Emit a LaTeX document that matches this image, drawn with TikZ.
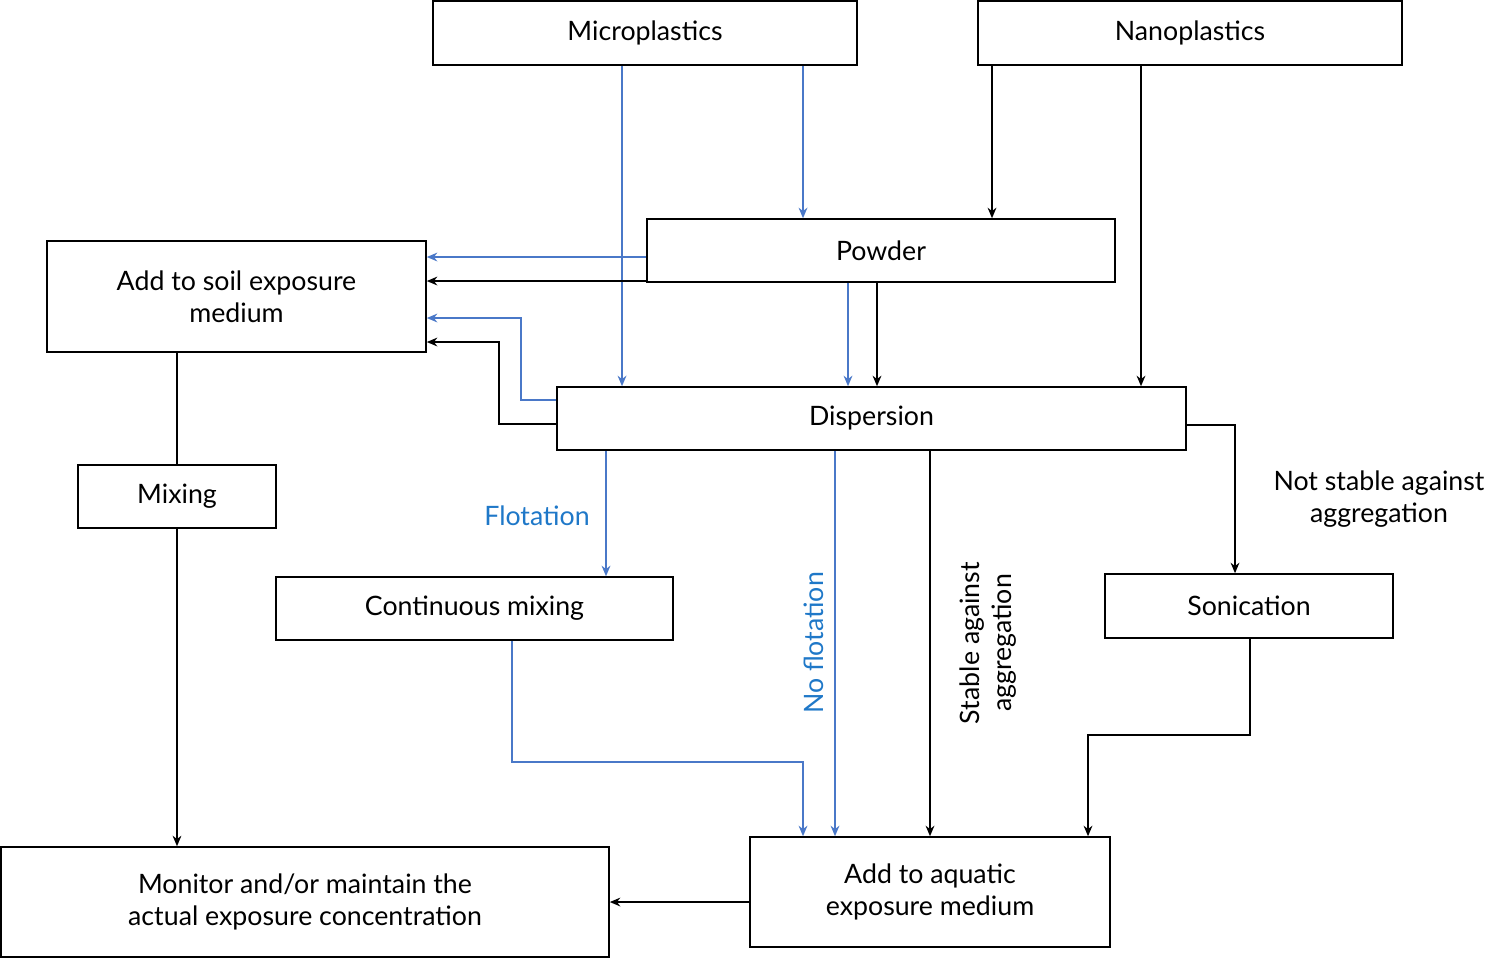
\documentclass[tikz,border=0pt]{standalone}
\usepackage{fontspec}
\setmainfont{Lato}
\usetikzlibrary{arrows.meta}
\definecolor{bl}{HTML}{4A78C8}
\definecolor{bt}{HTML}{1F78C8}
\begin{document}
\begin{tikzpicture}[x=0.01cm,y=-0.01cm,
 box/.style={draw,line width=0.45pt,inner sep=0pt},
 a/.style={-{Stealth[length=3pt,width=2.5pt]},line width=0.45pt},
 b/.style={a,draw=bl},
 lab/.style={font=\fontsize{7.6}{9}\selectfont,align=center}]
\useasboundingbox (0,0) rectangle (1501,959);
\tikzset{every node/.style={lab}}
\newcommand\bx[6]{\node[box,minimum width=#4*0.01cm-#2*0.01cm,minimum height=#5*0.01cm-#3*0.01cm] (#1) at ({(#2+#4)/2},{(#3+#5)/2}) {#6};}
\bx{mp}{433}{1}{857}{65}{Microplastics}
\bx{np}{978}{1}{1402}{65}{Nanoplastics}
\bx{pw}{647}{219}{1115}{282}{Powder}
\bx{soil}{47}{241}{426}{352}{Add to soil exposure\\medium}
\bx{dp}{557}{387}{1186}{450}{Dispersion}
\bx{mx}{78}{465}{276}{528}{Mixing}
\bx{cm}{276}{577}{673}{640}{Continuous mixing}
\bx{so}{1105}{574}{1393}{638}{Sonication}
\bx{mo}{1}{847}{609}{957}{Monitor and/or maintain the\\actual exposure concentration}
\bx{aq}{750}{837}{1110}{947}{Add to aquatic\\exposure medium}
\draw[b] (mp.south -| 622,0) -- (dp.north -| 622,0);
\draw[b] (mp.south -| 803,0) -- (pw.north -| 803,0);
\draw[a] (np.south -| 992,0) -- (pw.north -| 992,0);
\draw[a] (np.south -| 1141,0) -- (dp.north -| 1141,0);
\draw[b] (pw.west |- 0,257) -- (soil.east |- 0,257);
\draw[a] (pw.west |- 0,281) -- (soil.east |- 0,281);
\draw[b] (pw.south -| 848,0) -- (dp.north -| 848,0);
\draw[a] (pw.south -| 877,0) -- (dp.north -| 877,0);
\draw[b] (dp.west |- 0,400) -- (521,400) -- (521,318) -- (soil.east |- 0,318);
\draw[a] (dp.west |- 0,424) -- (499,424) -- (499,342) -- (soil.east |- 0,342);
\draw[line width=0.45pt] (soil.south -| 177,0) -- (mx.north -| 177,0);
\draw[a] (mx.south -| 177,0) -- (mo.north -| 177,0);
\draw[a] (dp.east |- 0,425) -- (1235,425) -- (so.north -| 1235,0);
\draw[b] (dp.south -| 606,0) -- (cm.north -| 606,0);
\draw[b] (dp.south -| 835,0) -- (aq.north -| 835,0);
\draw[a] (dp.south -| 930,0) -- (aq.north -| 930,0);
\draw[b] (cm.south -| 512,0) -- (512,762) -- (803,762) -- (aq.north -| 803,0);
\draw[a] (so.south -| 1250,0) -- (1250,735) -- (1088,735) -- (aq.north -| 1088,0);
\draw[a] (aq.west |- 0,902) -- (mo.east |- 0,902);
\node[text=bt] (fl) at (537,516) {Flotation};
\node[text=bt,rotate=90] (nf) at (814,643) {No flotation};
\node[rotate=90] (st) at (988,643) {Stable against\\aggregation};
\node (ns) at (1379,499) {Not stable against\\aggregation};
\end{tikzpicture}
\end{document}
